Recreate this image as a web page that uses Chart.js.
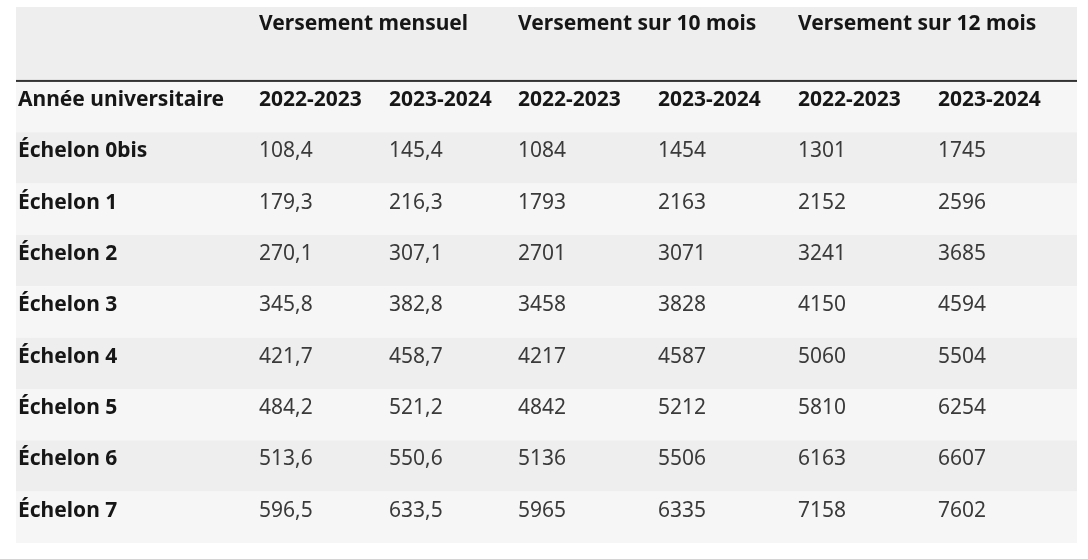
<!DOCTYPE html>
<html><head><meta charset="utf-8">
<script src="https://cdn.jsdelivr.net/npm/chart.js@4"></script>
<style>body{margin:0;background:#fff}</style>
</head><body>
<canvas id="c" width="1088" height="559"></canvas>
<script>
// table data
let groups = ['Versement mensuel', 'Versement sur 10 mois', 'Versement sur 12 mois'];
let years = ['2022-2023', '2023-2024'];
let rowLabels = ['Échelon 0bis', 'Échelon 1', 'Échelon 2', 'Échelon 3', 'Échelon 4', 'Échelon 5', 'Échelon 6', 'Échelon 7'];
let mensuel2223 = [108.4, 179.3, 270.1, 345.8, 421.7, 484.2, 513.6, 596.5];
let mensuel2324 = [145.4, 216.3, 307.1, 382.8, 458.7, 521.2, 550.6, 633.5];
let dix2223 = [1084, 1793, 2701, 3458, 4217, 4842, 5136, 5965];
let dix2324 = [1454, 2163, 3071, 3828, 4587, 5212, 5506, 6335];
let douze2223 = [1301, 2152, 3241, 4150, 5060, 5810, 6163, 7158];
let douze2324 = [1745, 2596, 3685, 4594, 5504, 6254, 6607, 7602];

let columns = [mensuel2223, mensuel2324, dix2223, dix2324, douze2223, douze2324];
let colX = [2, 243, 373, 502, 642, 782, 922];   // left edge of each text column
let headH = 1.44;

function fmt(v, decimals) {
    return decimals ? v.toFixed(1).replace('.', ',') : String(v);
}

let tablePlugin = {
    id: 'table',
    beforeDatasetsDraw(chart) {
        let c = chart.ctx, x = chart.scales.x, y = chart.scales.y;
        let left = x.getPixelForValue(0), right = x.getPixelForValue(1061);
        let row = (a, b, col) => {
            c.fillStyle = col;
            c.fillRect(left, y.getPixelForValue(a), right - left, y.getPixelForValue(b) - y.getPixelForValue(a));
        };
        row(0, headH, '#eeeeee');
        row(headH, headH + 1, '#f6f6f6');
        rowLabels.forEach((l, i) => row(headH + 1 + i, headH + 2 + i, i % 2 ? '#f6f6f6' : '#eeeeee'));
        c.fillStyle = '#333';
        c.fillRect(left, y.getPixelForValue(headH) - 1, right - left, 2);

        c.textBaseline = 'middle';
        c.textAlign = 'left';
        c.font = 'bold 21px "Noto Sans"';
        c.fillStyle = '#161616';
        groups.forEach((g, i) => c.fillText(g, x.getPixelForValue(colX[1 + i * 2]), y.getPixelForValue(0.33)));
        let yh = y.getPixelForValue(headH + 0.37);
        c.fillText('Année universitaire', x.getPixelForValue(colX[0]), yh);
        for (let i = 0; i < 6; i++) c.fillText(years[i % 2], x.getPixelForValue(colX[i + 1]), yh);
        rowLabels.forEach((l, r) => {
            let yy = y.getPixelForValue(headH + 1.37 + r);
            c.font = 'bold 21px "Noto Sans"';
            c.fillStyle = '#161616';
            c.fillText(l, x.getPixelForValue(colX[0]), yy);
            c.font = '21px "Noto Sans"';
            c.fillStyle = '#3a3a3a';
            columns.forEach((col, i) => c.fillText(fmt(col[r], i < 2), x.getPixelForValue(colX[i + 1]), yy));
        });
    }
};

new Chart(document.getElementById('c'), {
    type: 'scatter',
    data: { datasets: [] },
    options: {
        responsive: false,
        animation: false,
        layout: { padding: { left: 16, right: 11, top: 7, bottom: 16 } },
        plugins: { legend: { display: false }, tooltip: { enabled: false } },
        scales: {
            x: { type: 'linear', display: false, min: 0, max: 1061 },
            y: { type: 'linear', display: false, reverse: true, min: 0, max: headH + 9 }
        }
    },
    plugins: [tablePlugin]
});
</script>
</body></html>
